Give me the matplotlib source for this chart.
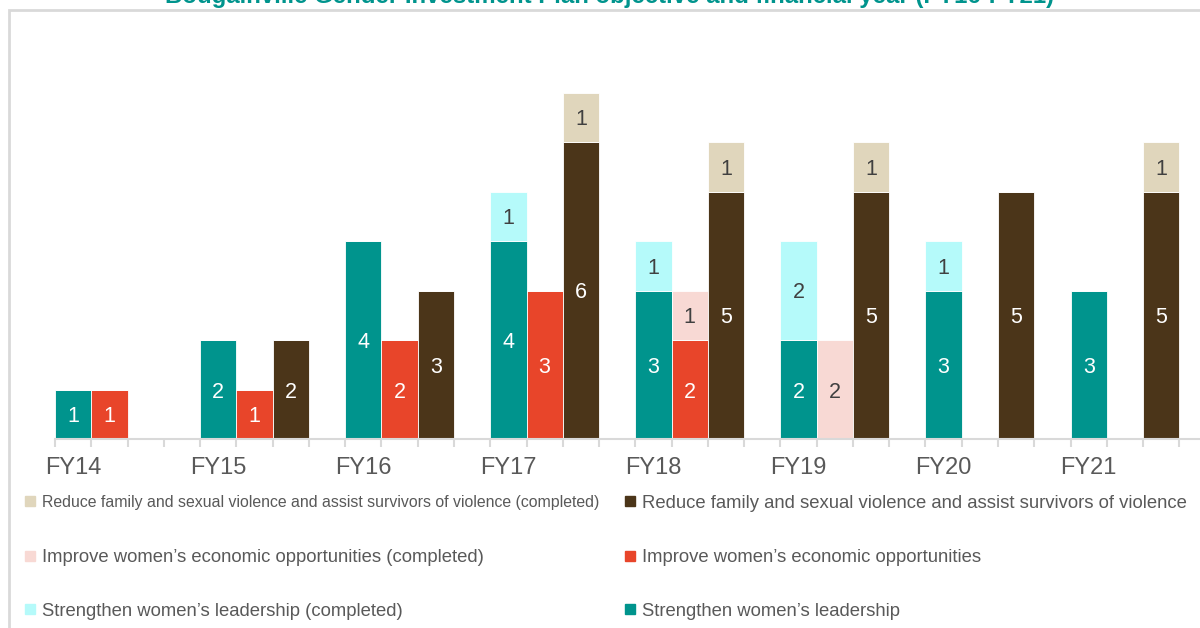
import numpy as np
import matplotlib.pyplot as plt
from matplotlib.patches import Rectangle

plt.rcParams["font.family"] = ["Liberation Sans", "DejaVu Sans"]

years = ["FY14", "FY15", "FY16", "FY17", "FY18", "FY19", "FY20", "FY21"]

# active / completed counts per objective
leadership = [1, 2, 4, 4, 3, 2, 3, 3]
leadership_done = [0, 0, 0, 1, 1, 2, 1, 0]
economic = [1, 1, 2, 3, 2, 0, 0, 0]
economic_done = [0, 0, 0, 0, 1, 2, 0, 0]
violence = [0, 2, 3, 6, 5, 5, 5, 5]
violence_done = [0, 0, 0, 1, 1, 1, 0, 1]

TEAL = "#00948D"
RED = "#E8452A"
BROWN = "#4B3519"
BEIGE = "#E0D6BC"
PINK = "#F8D9D4"
CYAN = "#B5FAFA"

series = [
    (0, leadership, leadership_done, TEAL, CYAN),
    (1, economic, economic_done, RED, PINK),
    (2, violence, violence_done, BROWN, BEIGE),
]

W, H = 1200, 628
fig = plt.figure(figsize=(W / 100, H / 100), dpi=100)

# frame around the chart area (cut off at right/bottom in the original)
fig.patches.append(Rectangle((9 / W, -0.1), 1.2, 1 - 10 / H + 0.1, transform=fig.transFigure,
                             fill=False, edgecolor="#D9D9D9", linewidth=2))

slot_px = 36.27
ax = fig.add_axes([55 / W, 1 - 439 / H, 32 * slot_px / W, 7 * 49.5 / H])
ax.set_xlim(0, 32)
ax.set_ylim(0, 7)

groups = np.arange(len(years)) * 4
for sub, active, done, c_active, c_done in series:
    x = groups + sub + 0.5
    active = np.array(active)
    done = np.array(done)
    ax.bar(x, active, width=1, color=c_active, edgecolor="white", linewidth=0.6)
    ax.bar(x, done, width=1, bottom=active, color=c_done, edgecolor="white", linewidth=0.6)
    for xi, a, d in zip(x, active, done):
        if a > 0:
            ax.text(xi, a / 2, str(a), ha="center", va="center_baseline", color="white", fontsize=15.5)
        if d > 0:
            ax.text(xi, a + d / 2, str(d), ha="center", va="center_baseline", color="#404040", fontsize=15.5)

for side in ["left", "right", "top"]:
    ax.spines[side].set_visible(False)
ax.spines["bottom"].set_color("#D9D9D9")
ax.spines["bottom"].set_linewidth(1.5)
ax.set_yticks([])
ax.set_xticks(np.arange(0, 33))
ax.set_xticklabels([])
ax.tick_params(axis="x", which="major", length=6, width=1.5, color="#D9D9D9")
ax.set_xticks(groups + 0.5, minor=True)
ax.set_xticklabels(years, minor=True)
ax.tick_params(axis="x", which="minor", length=0, pad=13, labelsize=17, labelcolor="#595959")

# title, mostly cut off at the top edge
fig.text(610 / W, 1 - 2.5 / H, "Bougainville Gender Investment Plan objective and financial year (FY16-FY21)",
         ha="center", va="baseline", fontsize=17.3, fontweight="bold", color=TEAL)

# legend laid out by hand (two columns, first item shrunk as in the original)
legend_items = [
    (BEIGE, "Reduce family and sexual violence and assist survivors of violence (completed)", 25, 501, 11.4),
    (BROWN, "Reduce family and sexual violence and assist survivors of violence", 625, 501, 13.35),
    (PINK, "Improve women\u2019s economic opportunities (completed)", 25, 556, 13.35),
    (RED, "Improve women\u2019s economic opportunities", 625, 556, 13.35),
    (CYAN, "Strengthen women\u2019s leadership (completed)", 25, 609, 13.35),
    (TEAL, "Strengthen women\u2019s leadership", 625, 609, 13.35),
]
for color, label, px, py, size in legend_items:
    fig.patches.append(Rectangle((px / W, 1 - (py + 5) / H), 10 / W, 10 / H,
                                 transform=fig.transFigure, color=color))
    fig.text((px + 17) / W, 1 - py / H, label, ha="left", va="center_baseline",
             fontsize=size, color="#595959")

fig.savefig("out.png", dpi=100)
